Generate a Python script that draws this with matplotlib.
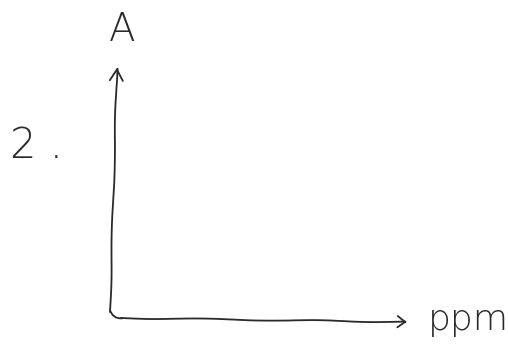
import matplotlib
matplotlib.use('Agg')
import matplotlib.pyplot as plt

# sketch of an empty axis pair: absorbance vs concentration
item_label = '2 .'
y_label = 'A'
x_label = 'ppm'

plt.xkcd(scale=0.6, length=120, randomness=2)
plt.rcParams['font.family'] = ['DejaVu Sans']
plt.rcParams['path.effects'] = []

fig = plt.figure(figsize=(5.08, 3.49), dpi=100)
ax = fig.add_axes([0, 0, 1, 1])
ax.set_xlim(0, 508)
ax.set_ylim(349, 0)
ax.axis('off')

ink = '#2a2a2a'

# y axis with arrow head
ax.annotate('', xy=(117, 67), xytext=(110, 312),
            arrowprops=dict(arrowstyle='->,head_length=0.6,head_width=0.35',
                            color=ink, lw=1.3, shrinkA=0, shrinkB=0))
# rounded corner
ax.annotate('', xy=(122, 318), xytext=(110, 310),
            arrowprops=dict(arrowstyle='-', color=ink, lw=1.3,
                            connectionstyle='arc3,rad=0.4', shrinkA=0, shrinkB=0))
# x axis with arrow head
ax.annotate('', xy=(407, 322), xytext=(121, 318),
            arrowprops=dict(arrowstyle='->,head_length=0.4,head_width=0.3',
                            color=ink, lw=1.3, shrinkA=0, shrinkB=0))

ax.text(122, 30, y_label, fontsize=28, color=ink, ha='center', va='center',
        fontweight='light')
ax.text(468, 320, x_label, fontsize=26, color=ink, ha='center', va='center',
        fontweight='light')
ax.text(36, 146, item_label, fontsize=30, color=ink, ha='center', va='center',
        fontweight='light')

fig.savefig('out.png', dpi=100)
